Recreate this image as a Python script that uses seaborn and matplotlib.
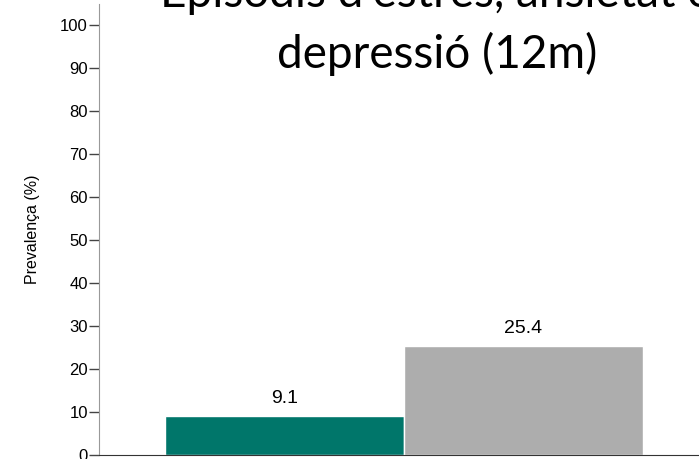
import matplotlib
matplotlib.use("Agg")
import matplotlib.pyplot as plt
import pandas as pd
import seaborn as sns

# Values.
groups = ["Grup 1", "Grup 2"]
prevalence = [9.1, 25.4]
bar_colors = ["#00766A", "#ADADAD"]
y_ticks = [0, 10, 20, 30, 40, 50, 60, 70, 80, 90, 100]
title_lines = ["Episodis d'estrès, ansietat o", "depressió (12m)"]
y_label = "Prevalença (%)"

df = pd.DataFrame({"group": groups, "value": prevalence})

sns.set_style("white")
plt.rcParams["font.family"] = ["Liberation Sans", "DejaVu Sans"]

W, H = 699, 459
fig = plt.figure(figsize=(W / 100, H / 100), dpi=100)
# The axes run past the right edge, like the cropped original.
ax = fig.add_axes([99 / W, 4 / H, 1 - 99 / W, 451 / H])

sns.barplot(data=df, x="group", y="value", hue="group", palette=bar_colors,
            width=1.0, legend=False, ax=ax, saturation=1)

ax.set_xlim(-0.776, 1.734)
ax.set_ylim(0, 105)
ax.set_yticks(y_ticks)
ax.set_xticks([])
ax.set_xlabel("")
ax.set_ylabel(y_label, fontsize=11.5, color="black")
ax.yaxis.set_label_coords(-(99 - 40) / (W - 99), 0.5)
ax.tick_params(axis="y", direction="out", length=7, width=1,
               color="#444444", labelsize=12, labelcolor="black",
               pad=1, left=True)

for side in ["top", "right"]:
    ax.spines[side].set_visible(False)
ax.spines["left"].set_color("#999999")
ax.spines["bottom"].set_color("#333333")

# Value labels above each bar.
for i, v in enumerate(prevalence):
    ax.text(i, v + 2.0, f"{v:.1f}", ha="center", va="bottom", fontsize=14,
            color="black")

# Title is partly cut off at the top of the image in the reference.
title_baselines = [7, 68]
for line, y in zip(title_lines, title_baselines):
    fig.text(437 / W, 1 - y / H, line, ha="center", va="baseline",
             fontsize=33, family=["Lato", "DejaVu Sans"], color="black")

fig.savefig("out.png", dpi=100)
